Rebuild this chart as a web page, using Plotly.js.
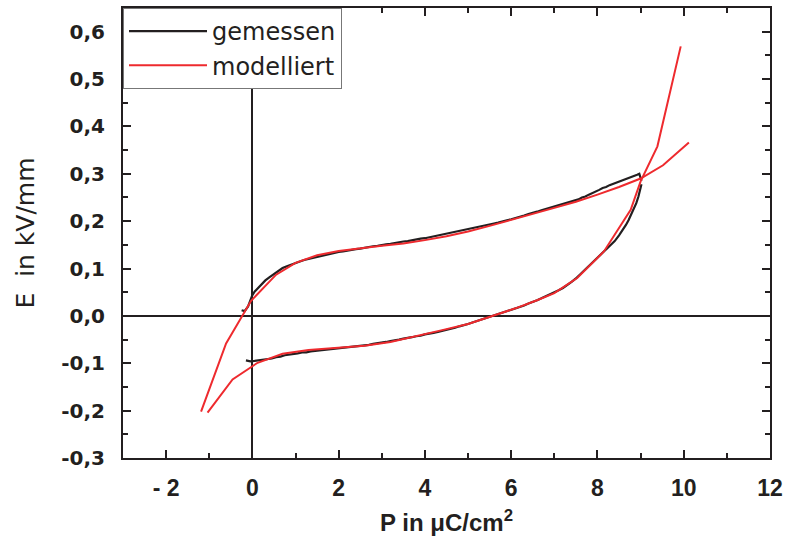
<!DOCTYPE html>
<html><head><meta charset="utf-8">
<script src="https://cdn.plot.ly/plotly-3.0.1.min.js"></script>
<style>body{margin:0;background:#fff}#chart{width:787px;height:546px}</style>
</head><body><div id="chart"></div>
<script>
// measured loop (black): upper branch right->left, gap, lower branch left->right
const measP = [9.02,8.97,8.92,8.86,8.8,8.74,8.68,8.6,8.52,8.44,8.36,8.28,8.2,8.12,8.04,7.96,7.88,7.8,7.72,7.64,7.56,7.48,7.4,7.3,7.2,7.1,7.0,6.9,6.8,6.7,6.6,6.5,6.4,6.3,6.2,6.1,6.0,5.9,5.8,5.7,5.6,5.5,5.4,5.3,5.2,5.1,5.0,4.9,4.8,4.7,4.6,4.5,4.4,4.3,4.2,4.1,4.0,3.9,3.8,3.7,3.6,3.5,3.4,3.3,3.2,3.1,3.0,2.9,2.8,2.7,2.6,2.5,2.4,2.3,2.2,2.1,2.0,1.9,1.8,1.7,1.6,1.5,1.4,1.3,1.2,1.1,1.0,0.9,0.8,0.7,0.6,0.5,0.4,0.3,0.2,0.12,0.05,0.0,-0.05,-0.1,-0.18,-0.25,
  null,
  -0.15,-0.05,0.05,0.15,0.25,0.35,0.45,0.55,0.65,0.75,0.85,0.95,1.05,1.15,1.25,1.35,1.45,1.55,1.65,1.75,1.85,1.95,2.1,2.2,2.3,2.4,2.5,2.6,2.7,2.8,2.9,3.0,3.1,3.2,3.3,3.4,3.5,3.6,3.7,3.8,3.9,4.0,4.1,4.2,4.3,4.4,4.5,4.6,4.7,4.8,4.9,5.0,5.1,5.2,5.3,5.4,5.5,5.6,5.7,5.8,5.9,6.0,6.1,6.2,6.3,6.4,6.5,6.6,6.7,6.8,6.9,7.0,7.1,7.2,7.3,7.4,7.5,7.6,7.7,7.8,7.9,8.0,8.1,8.2,8.3,8.4,8.5,8.58,8.66,8.72,8.78,8.84,8.9,8.95,8.99,9.02];
const measE = [0.285,0.300,0.298,0.296,0.293,0.292,0.289,0.287,0.284,0.282,0.278,0.276,0.272,0.270,0.266,0.263,0.259,0.256,0.252,0.250,0.246,0.244,0.241,0.239,0.236,0.234,0.231,0.229,0.226,0.223,0.220,0.218,0.215,0.212,0.209,0.207,0.204,0.202,0.199,0.197,0.195,0.193,0.191,0.190,0.188,0.186,0.184,0.182,0.179,0.177,0.175,0.173,0.171,0.169,0.168,0.166,0.164,0.163,0.161,0.160,0.158,0.157,0.155,0.154,0.152,0.151,0.149,0.148,0.147,0.145,0.144,0.142,0.141,0.139,0.138,0.136,0.135,0.133,0.131,0.129,0.127,0.125,0.122,0.120,0.118,0.115,0.112,0.109,0.105,0.101,0.095,0.089,0.082,0.075,0.066,0.058,0.051,0.044,0.033,0.020,0.010,0.012,
  null,
  -0.094,-0.096,-0.095,-0.094,-0.093,-0.091,-0.090,-0.087,-0.086,-0.083,-0.082,-0.080,-0.079,-0.077,-0.077,-0.075,-0.074,-0.072,-0.072,-0.070,-0.070,-0.068,-0.067,-0.066,-0.065,-0.064,-0.063,-0.062,-0.061,-0.059,-0.058,-0.056,-0.055,-0.053,-0.052,-0.050,-0.048,-0.047,-0.045,-0.043,-0.042,-0.039,-0.038,-0.036,-0.034,-0.032,-0.030,-0.027,-0.025,-0.022,-0.020,-0.017,-0.014,-0.011,-0.009,-0.005,-0.003,0.001,0.003,0.007,0.010,0.013,0.016,0.019,0.022,0.026,0.029,0.033,0.037,0.041,0.045,0.050,0.054,0.059,0.065,0.072,0.079,0.088,0.096,0.106,0.113,0.122,0.131,0.140,0.149,0.158,0.170,0.180,0.192,0.202,0.213,0.225,0.238,0.252,0.266,0.278,0.285];

// model (red): two branches
const modUpP = [10.12,9.52,9.0,8.5,8.0,7.5,7.0,6.5,6.0,5.5,5.0,4.5,4.0,3.5,3.0,2.5,2.0,1.5,1.0,0.55,-0.03,-0.61,-1.19];
const modUpE = [0.366,0.318,0.290,0.272,0.256,0.241,0.228,0.215,0.203,0.190,0.178,0.168,0.160,0.153,0.148,0.143,0.137,0.128,0.112,0.087,0.032,-0.058,-0.202];
const modLoP = [-1.04,-0.46,0.12,0.7,1.3,2.0,2.6,3.2,3.8,4.4,5.0,5.6,6.1,6.6,7.0,7.53,8.15,8.77,9.0,9.39,9.93];
const modLoE = [-0.204,-0.134,-0.099,-0.080,-0.072,-0.068,-0.063,-0.055,-0.043,-0.030,-0.017,0.001,0.016,0.033,0.048,0.080,0.136,0.224,0.284,0.358,0.569];

const xTicks = [-2,0,2,4,6,8,10,12];
const xLabels = ['- 2','0','2','4','6','8','10','12'];
const yTicks = [-0.3,-0.2,-0.1,0,0.1,0.2,0.3,0.4,0.5,0.6];
const yLabels = ['-0,3','-0,2','-0,1','0,0','0,1','0,2','0,3','0,4','0,5','0,6'];

const famA = 'Liberation Sans, Arial, sans-serif';
const famD = 'DejaVu Sans, sans-serif';
const ink = '#231f20';
const red = '#ee2a2e';

const traces = [
  {x: measP, y: measE, type:'scatter', mode:'lines', name:'gemessen',
   line:{color:ink, width:2.2}, connectgaps:false},
  {x: modUpP, y: modUpE, type:'scatter', mode:'lines', name:'modelliert',
   line:{color:red, width:2}, legendgroup:'m'},
  {x: modLoP, y: modLoE, type:'scatter', mode:'lines', name:'modelliert',
   line:{color:red, width:2}, legendgroup:'m', showlegend:false}
];

const axisCommon = {
  showgrid:false, showline:true, linecolor:ink, linewidth:2, mirror:'ticks',
  ticks:'inside', ticklen:8, tickwidth:2, tickcolor:ink,
  zeroline:true, zerolinecolor:ink, zerolinewidth:2
};

const layout = {
  width:787, height:546,
  margin:{l:123, r:17, t:8, b:88},
  paper_bgcolor:'#fff', plot_bgcolor:'#fff',
  showlegend:true,
  legend:{x:0, y:1, xanchor:'left', yanchor:'top', bgcolor:'#fff',
    bordercolor:'#777', borderwidth:1,
    font:{family:famD, size:24, color:ink}, tracegroupgap:0, itemwidth:78},
  xaxis: Object.assign({}, axisCommon, {
    range:[-3,12], tickmode:'array', tickvals:xTicks, ticktext:xLabels,
    ticklabelstandoff:8,
    tickfont:{family:famA, size:23, color:ink, weight:'bold'},
    minor:{tickmode:'linear', tick0:-3, dtick:1, ticks:'inside', ticklen:5, tickwidth:2, tickcolor:ink},
    title:{text:'P in μC/cm<sup>2</sup>', standoff:15,
      font:{family:famA, size:24, color:ink, weight:'bold'}}
  }),
  yaxis: Object.assign({}, axisCommon, {
    range:[-0.3,0.65], tickmode:'array', tickvals:yTicks, ticktext:yLabels,
    ticklabelstandoff:12,
    tickfont:{family:famD, size:20, color:ink, weight:'bold'},
    minor:{tickmode:'linear', tick0:-0.3, dtick:0.05, ticks:'inside', ticklen:5, tickwidth:2, tickcolor:ink},
    title:{text:'E&nbsp; in kV/mm', standoff:20,
      font:{family:famD, size:25, color:ink}}
  })
};

Plotly.newPlot('chart', traces, layout, {displayModeBar:false, staticPlot:true});
</script></body></html>
